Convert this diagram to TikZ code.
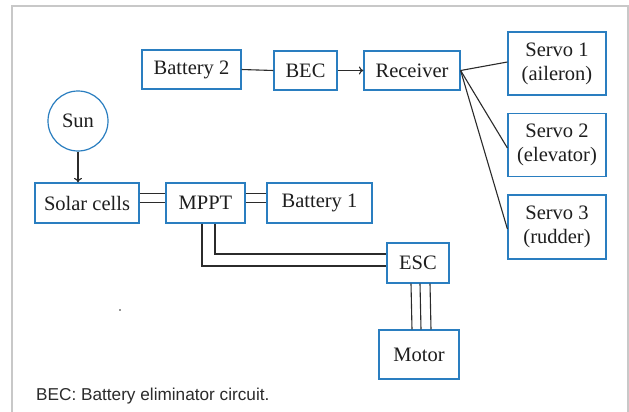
\documentclass[tikz,border=0pt]{standalone}
\usepackage{fontspec}
\setmainfont{Liberation Serif}
\newfontfamily\capfont{Liberation Sans}
\usetikzlibrary{calc,arrows.meta}
\definecolor{boxblue}{HTML}{2A7EC0}
\definecolor{linegray}{HTML}{2B2B2B}
\definecolor{framegray}{HTML}{C8C8C8}
\definecolor{txt}{HTML}{1E1E1E}
\begin{document}
\begin{tikzpicture}[x=1pt,y=-1pt,
  blk/.style={draw=boxblue,line width=1.2pt,rectangle,inner sep=0pt,text=txt,
    font=\fontsize{20.5}{24}\selectfont,align=center},
  conn/.style={draw=linegray,line width=1.1pt},
  arr/.style={conn,-{To[length=4.5pt,width=8pt]}}]
\useasboundingbox (0,0) rectangle (629,412);
\clip (0,0) rectangle (629,412);
\fill[white] (0,0) rectangle (629,412);
\draw[framegray,line width=1.5pt] (12,6) rectangle (628,430);

\node[blk,minimum width=99pt,minimum height=39pt] (bat2) at (191.5,69.5) {Battery 2};
\node[blk,minimum width=63pt,minimum height=39pt] (bec) at (305.5,70.5) {BEC};
\node[blk,minimum width=96pt,minimum height=39pt] (rec) at (412,70.5) {Receiver};
\node[blk,minimum width=98pt,minimum height=63pt] (s1) at (557,63.5) {Servo 1\\(aileron)};
\node[blk,minimum width=98pt,minimum height=63pt] (s2) at (557,145) {Servo 2\\(elevator)};
\node[blk,minimum width=98pt,minimum height=64pt] (s3) at (557,227) {Servo 3\\(rudder)};
\node[blk,circle,minimum size=60pt] (sun) at (78,121) {Sun};
\node[blk,minimum width=104pt,minimum height=40pt] (solar) at (87,203) {Solar cells};
\node[blk,minimum width=79pt,minimum height=40pt] (mppt) at (205.5,203) {MPPT};
\node[blk,minimum width=105pt,minimum height=40pt] (bat1) at (319.5,203) {Battery 1};
\node[blk,minimum width=62pt,minimum height=40pt] (esc) at (418,263) {ESC};
\node[blk,minimum width=80pt,minimum height=49pt] (motor) at (419,354.5) {Motor};

\draw[conn] (bat2.east) -- (bec.west);
\draw[arr] (bec.east) -- (rec.west);
\draw[conn] (rec.east) -- ($(s1.west)+(0,-1.5)$);
\draw[conn] (rec.east) -- ($(s2.west)+(0,3)$);
\draw[conn] (rec.east) -- ($(s3.west)+(0,2)$);
\draw[arr] (sun.south) -- (sun.south |- solar.north);

\draw[conn] ($(solar.east)+(0,-9.5)$) -- ($(mppt.west)+(0,-9.5)$);
\draw[conn] ($(solar.east)+(0,-0.5)$) -- ($(mppt.west)+(0,-0.5)$);
\draw[conn] ($(mppt.east)+(0,-9.5)$) -- ($(bat1.west)+(0,-9.5)$);
\draw[conn] ($(mppt.east)+(0,-0.5)$) -- ($(bat1.west)+(0,-0.5)$);

\draw[conn] ($(mppt.south)+(-3.5,0)$) |- ($(esc.west)+(0,3)$);
\draw[conn] ($(mppt.south)+(9.5,0)$) |- ($(esc.west)+(0,-9)$);

\draw[conn] ($(esc.south)+(-7,0)$) -- ($(motor.north)+(-7,0)$);
\draw[conn] ($(esc.south)+(2,0)$) -- ($(motor.north)+(2,0)$);
\draw[conn] ($(esc.south)+(12,0)$) -- ($(motor.north)+(12,0)$);

\fill[linegray] (120,310) circle (0.8pt);
\node[anchor=base west,inner sep=0pt,text=linegray,font=\capfont\fontsize{17.2}{19}\selectfont] (cap) at (36,400) {BEC: Battery eliminator circuit.};
\end{tikzpicture}
\end{document}
